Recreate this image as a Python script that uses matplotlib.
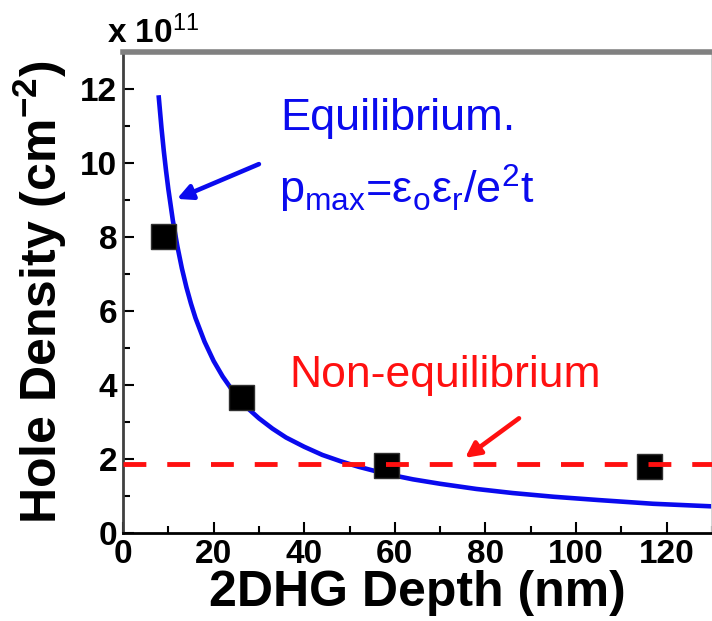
"""Hole density vs 2DHG depth: equilibrium p_max curve, measured points, non-equilibrium level."""

import matplotlib as mpl
import matplotlib.pyplot as plt
from matplotlib.ticker import MultipleLocator

mpl.rcParams.update({
    "font.family": "Liberation Sans", "mathtext.fontset": "custom",
    "mathtext.rm": "Liberation Sans", "mathtext.it": "Liberation Sans:italic",
    "mathtext.bf": "Liberation Sans:bold",
})

# measured hole densities (x 1e11 cm^-2)
depth_meas = [8.8, 26, 58, 116]
dens_meas = [8.03, 3.68, 1.84, 1.82]

# equilibrium curve p_max
depth_eq = [7.9, 8.5, 9, 9.5, 10, 11, 12, 13, 14, 15, 16, 18, 20, 22, 24, 26,
            28, 30, 33, 36, 40, 44, 48, 52, 58, 64, 70, 78, 86, 95, 105, 117, 130]
dens_eq = [11.77, 10.94, 10.33, 9.79, 9.30, 8.45, 7.75, 7.15, 6.64, 6.20, 5.81,
           5.17, 4.65, 4.23, 3.88, 3.58, 3.32, 3.10, 2.82, 2.58, 2.33, 2.11,
           1.94, 1.79, 1.60, 1.45, 1.33, 1.19, 1.08, 0.98, 0.89, 0.79, 0.72]

non_eq_level = 1.86

BLUE, RED = "#0a0aee", "#ff1010"

fig = plt.figure(figsize=(7.12, 6.21), dpi=100)
ax = fig.add_axes([123 / 712, 1 - 533 / 621, 1 - 123 / 712, (533 - 52) / 621])

ax.plot(depth_eq, dens_eq, "-", color=BLUE, lw=3.3, zorder=2)
ax.plot(depth_meas, dens_meas, "s", color="black", mec="#303030", ms=18, zorder=3)
ax.axhline(non_eq_level, color=RED, lw=3.5, dashes=(4.7, 4.3), zorder=4)

ax.annotate("", xy=(11.9, 9.03), xytext=(30, 9.97),
            arrowprops=dict(arrowstyle="-|>,head_length=0.9,head_width=0.45",
                            color=BLUE, lw=3.3, shrinkA=0, shrinkB=0))
ax.annotate("", xy=(75.5, 2.03), xytext=(87.4, 3.1),
            arrowprops=dict(arrowstyle="-|>,head_length=0.9,head_width=0.45",
                            color=RED, lw=3.3, shrinkA=0, shrinkB=0))

ax.text(34.8, 10.9, "Equilibrium.", color=BLUE, fontsize=32.5)
ax.text(34.5, 8.9, r"p$_{\rm max}$=ε$_{\rm o}$ε$_{\rm r}$/e$^{2}$t", color=BLUE, fontsize=32.5)
ax.text(36.8, 3.95, "Non-equilibrium", color=RED, fontsize=32)

ax.set_xlim(0, 130)
ax.set_ylim(0, 13)
ax.xaxis.set_major_locator(MultipleLocator(20))
ax.xaxis.set_minor_locator(MultipleLocator(10))
ax.yaxis.set_major_locator(MultipleLocator(2))
ax.yaxis.set_minor_locator(MultipleLocator(1))
ax.tick_params(which="both", direction="in", width=1.5, labelsize=24)
ax.tick_params(which="major", length=8)
ax.tick_params(which="minor", length=5)
for lab in ax.get_xticklabels() + ax.get_yticklabels():
    lab.set_fontweight("bold")
ax.tick_params(axis="x", pad=4)
ax.tick_params(axis="y", pad=4)

ax.spines["left"].set_linewidth(2)
ax.spines["left"].set_color("#404040")
ax.spines["bottom"].set_linewidth(2)
ax.spines["top"].set_linewidth(4)
ax.spines["top"].set_color("#808080")
ax.spines["right"].set_color("#d0d0d0")
ax.spines["right"].set_linewidth(2)

ax.set_xlabel("2DHG Depth (nm)", fontsize=36, fontweight="bold", labelpad=0)
ax.set_ylabel(r"Hole Density (cm$^{\mathbf{-2}}$)", fontsize=36, fontweight="bold", labelpad=8)

fig.text(107 / 712, 1 - 43 / 621, r"x 10$^{11}$", fontsize=24, fontweight="bold",
         va="baseline", ha="left")

fig.savefig("out.png", dpi=100)
